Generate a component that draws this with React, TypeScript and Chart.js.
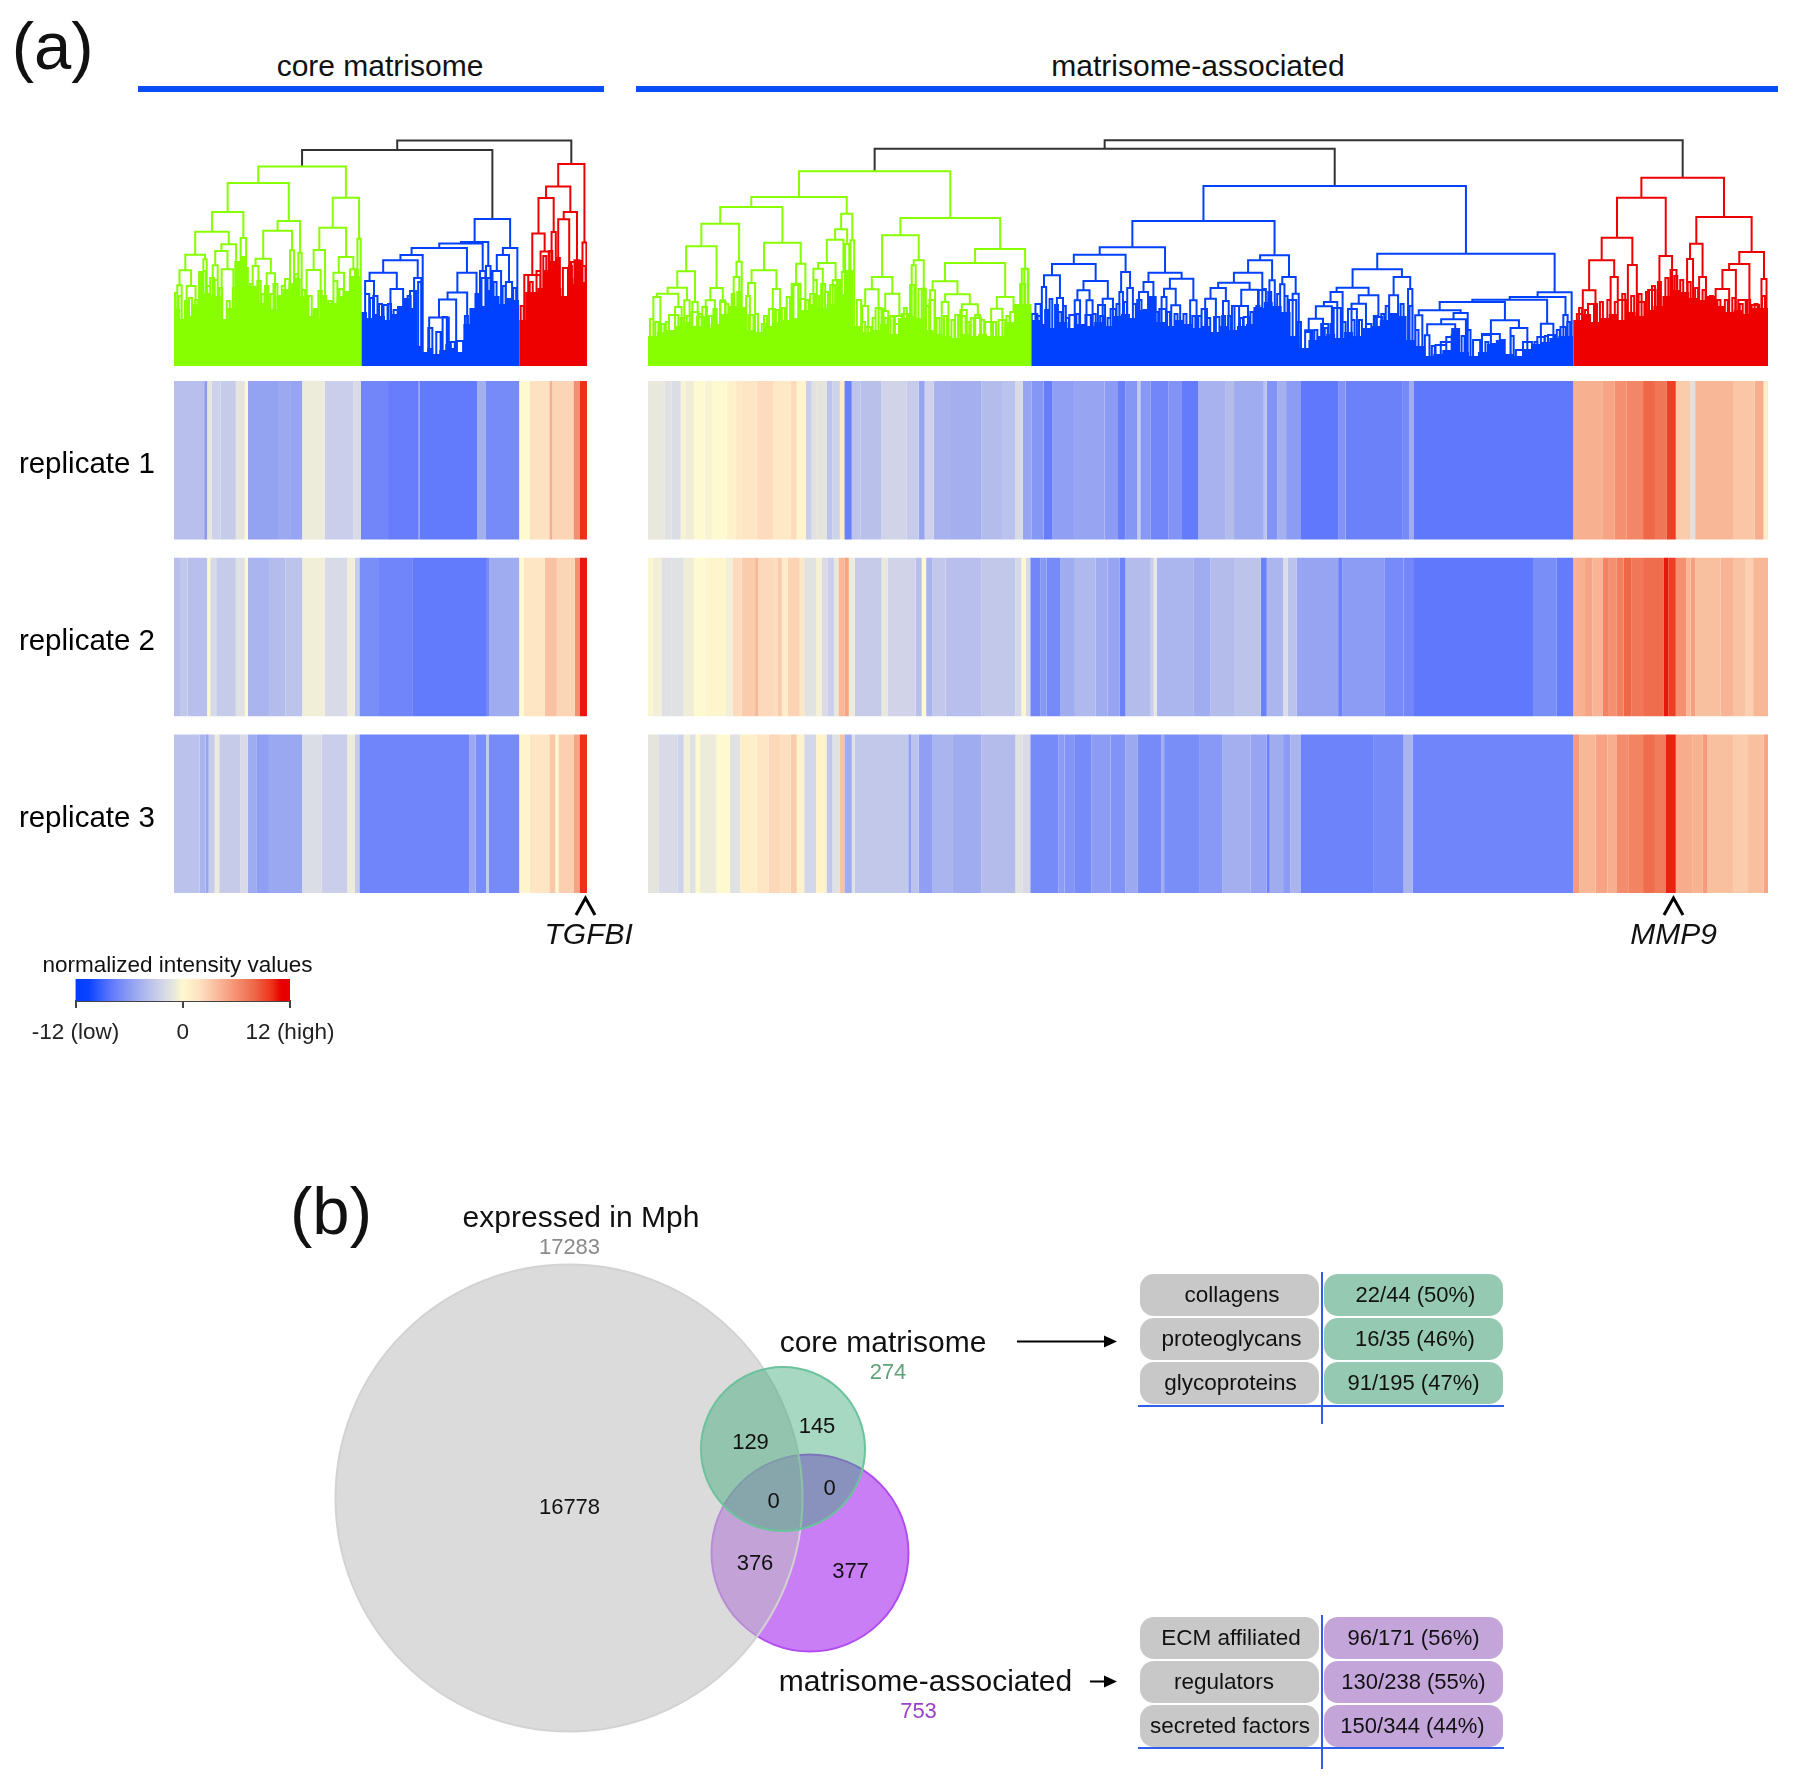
import React, { useEffect, useRef } from "react";
import { Chart, registerables } from "chart.js";

Chart.register(...registerables);

const FONT = '"Liberation Sans", Arial, sans-serif';
const replicateLabels = ["replicate 1", "replicate 2", "replicate 3"];

// Colour scale of the heat map: [normalized intensity, colour]
const heatStops: [number, string][] = [
  [-12, "#003cff"], [-10.5, "#0a44ff"], [-8, "#6078fc"], [-6, "#8c9cf4"], [-4, "#b4bcec"], [-2, "#d8dae8"],
  [-1, "#e8e8dc"], [0, "#fff9cf"], [2, "#fddfc0"], [4, "#f8b898"], [6, "#f49070"], [8, "#ee6848"],
  [10, "#ee3018"], [11, "#e60000"], [12, "#e60000"],
];

// Heat map strips: [last gene of the run, intensity]
const coreRep1: [number, number][] = [[20,-3.8],[22,-6],[25,-1.2],[31,-2.6],[41,-3],[47,-1.2],[49,0],[69,-5.6],[77,-5.2],[85,-5.5],[100,-0.8],[119,-2.8],[124,-2],[142,-7.2],[162,-7.7],[163,-6.5],[201,-7.9],[207,-4.8],[229,-7],[236,0],[249,1.8],[251,4.5],[265,2.5],[269,6],[274,10]];
const coreRep2: [number, number][] = [[4,-3.8],[9,-3.2],[22,-3.8],[24,0],[28,-2],[41,-3],[47,-1.5],[49,0],[63,-4.5],[74,-4],[85,-3.5],[100,-0.6],[115,-2],[120,-0.6],[123,-3],[136,-6.8],[158,-7.3],[207,-7.9],[209,-7],[229,-5],[232,0],[246,1.5],[254,3.5],[266,2.5],[269,6],[274,10.5]];
const coreRep3: [number, number][] = [[17,-3.6],[21,-4.5],[23,-5.5],[27,-3],[30,-0.8],[44,-3],[49,-2],[55,-5],[63,-5.8],[85,-5.3],[98,-1.8],[115,-2.8],[120,-0.8],[123,-3],[196,-7.3],[200,-5.2],[207,-6.8],[209,-3],[229,-7],[236,0.4],[249,1.5],[253,3.2],[255,0],[265,2.8],[269,5],[274,10]];

const assocRep1: [number, number][] = [[11,-1],[16,-1.5],[22,-1.8],[25,-0.3],[31,-0.7],[38,0],[43,-0.3],[53,0],[59,0.6],[63,1.2],[73,1.5],[84,2.2],[96,1.3],[100,2.2],[106,0.4],[110,-2.8],[113,-1.5],[120,-1.2],[124,-3.5],[129,-2.5],[132,1],[137,-7.5],[143,-3.5],[157,-3.7],[174,-2.4],[182,-3],[186,-5.5],[192,-2.6],[203,-4.6],[224,-4.8],[238,-4],[247,-3.6],[252,-2],[258,-5.5],[266,-6.3],[272,-7.7],[287,-5.8],[307,-5.5],[316,-6],[321,-7.7],[329,-6.3],[331,-3],[338,-6.2],[350,-7.2],[359,-6.5],[370,-7.8],[388,-4.6],[394,-4],[414,-5],[416,-3.5],[423,-6.5],[429,-4.8],[439,-6],[464,-8],[469,-6.5],[507,-7.5],[512,-7],[515,-5],[622,-8],[642,4.4],[650,5],[658,6],[669,6.5],[677,8],[685,7.3],[691,9.5],[701,3],[704,-1.5],[730,4],[744,3.3],[750,4.5],[753,1]];
const assocRep2: [number, number][] = [[3,-0.2],[9,-0.6],[16,-1.6],[24,-1.5],[31,-0.7],[38,0],[52,0.3],[57,-0.6],[63,2.2],[72,3],[74,4],[84,2.3],[87,2.1],[90,3],[94,1],[102,2.6],[105,1.3],[113,-1.4],[117,-0.5],[121,-2],[125,-2.8],[128,-1],[132,4],[135,5],[139,-0.8],[157,-3],[161,-1],[180,-2.4],[184,-3.8],[187,0],[191,-4.5],[200,-3.2],[224,-3.8],[247,-3.2],[251,-2.2],[254,-0.2],[257,-2],[264,-7.2],[268,-6.2],[277,-7],[287,-5],[301,-4.2],[309,-5],[317,-5.5],[321,-7.5],[338,-4],[340,-2.8],[342,-1],[367,-4.4],[378,-5],[394,-4],[412,-3.5],[416,-7.5],[427,-4.4],[430,-1.8],[436,-3.6],[464,-5.5],[467,-7.5],[495,-6],[508,-7],[515,-7.2],[595,-8],[611,-6.8],[622,-7.8],[630,4.4],[635,5],[642,4.2],[646,6.6],[651,6],[656,6.8],[661,8],[669,7.2],[683,7.8],[686,10.5],[691,9.5],[698,6],[701,4],[704,5.2],[721,3.6],[730,4.2],[738,3.5],[743,2.8],[753,4]];
const assocRep3: [number, number][] = [[7,-1.2],[20,-2],[24,-2.5],[28,-0.6],[32,-1.5],[35,0],[46,-0.8],[55,0],[62,-1.5],[73,0.8],[81,1.5],[89,2.4],[96,2],[100,3],[105,0.6],[113,-2.2],[120,0.5],[124,-3.2],[129,-1.5],[132,3.5],[137,-5],[139,-1.5],[175,-3.2],[177,-5.8],[182,-3.6],[191,-5.8],[205,-4.5],[224,-5],[247,-4],[252,-1.5],[257,-2],[276,-7],[280,-6],[287,-6.4],[298,-7],[311,-6],[321,-6.5],[329,-5.2],[345,-7],[347,-5],[371,-6.8],[386,-6.2],[405,-4.8],[416,-5.5],[418,-7.5],[427,-5],[432,-6],[439,-4.5],[488,-7.4],[508,-7],[514,-4.5],[622,-7.3],[626,5.5],[637,4],[645,5],[651,4.5],[659,6.2],[669,6.6],[677,7.8],[684,7],[691,10.3],[702,4.6],[709,4.3],[712,5.5],[730,3.6],[739,3],[750,3.6],[753,5]];

// Dendrograms: a node is [height, left, right]; a plain number is a leaf at that gene position
type Tree = number | [number, Tree, Tree];

const coreGreenTree: Tree = [199.6,
  [183,
    [154,
      [134.3,
        [111.3, [95.7, [80.7, 2.2, 5.1], [80, 8.4, [60.7, 12.4, 16.2]]], [106.7, 19.5, 21.7]],
        [121.7, [115, [100.7, 25.7, 29], [96.7, 31.6, 39.4]], 41.2]],
      [128, 44.2, 47.8]],
    [145, [135.3, [107.3, [100, 52.2, 56], [92.7, 61.5, 67]], [115.7, 77, 79.6]], [113.3, 82.5, 84.7]]],
  [168.3,
    [138.3, [116, [96, 88, 97.3], 100.2], [109, [93.3, 105.8, 112.8], [96.7, 116.8, 121.2]]],
    [127.3, 121.7, 123.9]]];
const coreBlueTree: Tree = [147,
  [124,
    [122.5,
      [118,
        [111, [105.7, [93.2, [85, 126.8, 132.7], [77, 143.6, 152]], [88, 159.3, 164.1]], 165],
        [93.2, [73.6, [66.4, [48.6, 169.3, 182.3], 187.2], 194.5], 200.7]],
      [95, 203, 206.6]],
    [100, 207, 210]],
  [118, [111, [95, 211.3, 217], [84, 220.2, 224.3]], 227.8]];
const coreRedTree: Tree = [202,
  [179.6,
    [168, [132.5, [91, 232.4, 243], [114.6, 243.2, 248.6]], [134, 250.5, 253.3]],
    [154, [146.8, 254.9, 262.2], [105.7, 265.7, 269]]],
  [123.6, 271, 273.6]];
const coreJoinHeights = [216, 225.4];

const assocGreenTree: Tree = [194.7,
  [169,
    [159,
      [142.3,
        [119.7,
          [94.7, [78.3, [72.3, [69, 3.6, 8.3], [59, 18.2, 22.6]], [65.7, 24.4, 28]], [64, 29.8, 33.4]],
          [78, [65.7, 38.8, 45], [65.7, 48.7, 51.8]]],
        [104.3, [89, 57.6, 61.4], 63]],
      [123.3, [95.7, [83, [70, 66, 68.5], 72], [77, 83.9, 88.8]], [102.3, [82.3, 96.6, 102.5], 105.8]]],
    [152.3,
      [136.7,
        [126.3, [103, [97.3, 111.2, 117.5], [85.7, 124.2, 128]], [94, 130.3, 132.5]],
        [122, 132.5, 135.3]],
      [125.7, 136.1, 138.6]]],
  [148,
    [130.7,
      [89, [76.7, [60, 144, 148], [58, 153, 157]], [72.3, [55, 157.5, 161.5], [50, 166, 172]]],
      [105.7, [100.7, 177.3, 180], [77.3, 184, 186.8]]],
    [117,
      [103,
        [84.7, [75.7, 189.7, 193], [71.7, [64, 197.5, 202], [61.7, [50, 208.5, 213.5], [48, 219.5, 224]]]],
        [69, [57.3, 230.7, 238.3], [54, 243.5, 248]]],
      [97.3, 251.3, 255.8]]]];
const assocBlueTree: Tree = [180,
  [145,
    [118.7,
      [111.3,
        [102,
          [90.7, [79, 264.8, 267.7], [68, 274.9, 279]],
          [85, [75.7, [65.7, 286.9, 290.5], [65.7, 294.8, 298.9]], [67.3, 305.7, 312.6]]],
        [94, [74, 316.9, 319.3], [78, 322.2, 326]]],
      [93.3,
        [84, [74, 330.1, 336.2], 339.8],
        [87.3, [77.3, [69, 345.3, 348.6], [60.7, 351.8, 357.8]], [65.7, 364.5, 368.8]]]],
    [110.7,
      [105.7,
        [93.3,
          [83.3, [78, [67.3, 374.6, 381.8], [65, 386.6, 390.4]], [76.3, [60, 394.3, 403.4], [58, 407.7, 412.5]]],
          [76, 410.6, 415.4]],
        [85.7, 417.8, 421.4]],
      [89, [81.7, 425, 427.9], [72.3, 433.4, 437.5]]]],
  [112.3,
    [96.7,
      [78.3,
        [74, [64, [59.7, [47.3, [35.7, 441.8, 446.6], 453.8], 459.8], 463.4], 467],
        [70.7, [62.3, 473, 482.7], [49, 488.6, 493.5]]],
      [89, [70.7, 498.3, 504.3], [77, 511, 513.9]]],
    [73.7,
      [69,
        [66.3,
          [64,
            [55.7, [50.7, 515.8, 520.6], [53, [46.7, [41.7, [30.7, 522.3, 525.4], [30.7, 540.3, 545.1]], 549.9], 551.1]],
            [45.7, [32, 560.7, 572.7], [38, 579.9, 591.2]]],
          [42.3, 600.3, 608.7]],
        [51, 615.4, 618.3]],
      621]]];
const assocRedTree: Tree = [188.3,
  [168.3,
    [128.3, [105.7, [75.7, 628.5, 637], [89, 647.2, 652]], [101, 658.8, 664.8]],
    [110, 680, 688.5]],
  [149,
    [122.3, [107, 698.6, 702.6], [89, 706.7, 711.3]],
    [114, [102, [96, [77, 717.8, 726.9], 731.4], 740.5], [87, 748.6, 752]]]];
const assocJoinHeights = [217.3, 225.7];

// Small low-level merges: [left gene, right gene, height]
const coreGreenFine = [[0.7,2.2,73],[7.3,9.5,65],[19.5,21.2,95],[24,26.5,88],[35,37,65],[35.4,37.6,57],[50.4,52.2,82],[55.3,57.5,85],[60.4,62.6,80],[66,68.6,82],[71.5,73.7,80],[73.7,76.6,87],[89.2,91.4,70],[93,95.8,57],[95.8,98,75],[102.4,104.6,65],[105.8,108.4,85],[109.7,112.4,77],[116.8,119,80],
  [3,5,70],[10,12,68],[14,16,66],[17,19,88],[22,24,80],[27,29,86],[30,32,78],[39,41,78],[42,44,100],[47,49,98],[58,60,72],[64,66,72],[69,71,70],[80,82,92],[85,87,76],[99,101,70],[113,115,72],[120,122,96]];
const coreBlueFine = [[126.8,129.5,72],[132.2,135,70],[139,141.7,61],[145.7,148.4,56],[151,153.8,52],[156.6,160.6,75],[168.7,171.4,38],[174,176.9,34],[178.2,181,49],[183.6,186.3,24],[187.7,191.8,25],[197.2,199.9,56],[204,206.7,88],
  [130,132,68],[136,138,62],[142,144,62],[149,151,58],[155,157,70],[162,164,84],[193,195,50],[200,202,72],[208,210,88],[212,214,84],[218,220,80],[225,227,78]];
const coreRedFine = [[232.4,235,91],[240.5,243.2,95],[258,261.4,98],[263.5,266.8,104],
  [230,232,60],[236,238,84],[245,247,110],[249,251,115],[254,256,108],[262,264,100],[268,270,105],[271,273,100]];
const assocGreenFine = [[1.3,3.6,47],[14.1,20.4,51],[29.4,33.9,54],[36.5,39.7,59],[33,37.9,49],[44,46.2,57],[48.4,52.2,64],[56.3,58,72],[67.5,70.9,51],[76.5,79.8,42],[81.4,85.4,57],[93.3,95.5,69],[97.8,101,81],[102.2,105.6,67],[109,112.3,72],[111.2,113.5,86],[116.4,119.1,82],[122.4,125.8,81],[140.4,143.3,66],[146.4,150,39],[155,158.3,57],[165,168.8,42],[170.6,175.1,52],[176.2,179.1,81],[181.8,185.4,77],[189.2,192.6,66],[206.5,211,51],[210,214.3,56],[220,223.3,51],[226.7,231.2,44],[235.7,240.1,46],[250.2,253.6,82],[253,255.4,97],
  [5,7,44],[9,11,42],[12,14,44],[22,24,48],[26,28,50],[34,36,52],[41,43,50],[52,54,62],[60,62,74],[64,66,58],[72,74,52],[78,80,50],[86,88,56],[90,92,58],[106,108,66],[113,115,70],[119,121,74],[127,129,86],[144,146,44],[151,153,48],[159,161,48],[163,165,50],[172,174,58],[187,189,60],[194,196,48],[199,201,50],[204,206,46],[214,216,44],[217,219,48],[224,226,46],[232,234,44],[241,243,50],[248,250,60]];
const assocBlueFine = [[258,261.7,52],[260.5,264,62],[270,271.8,67],[273.7,275.6,61],[279.2,280.9,60],[283.3,286.9,51],[294.1,297.7,51],[302.5,307.3,61],[311,314.5,57],[328.9,331.8,66],[333.3,335,56],[343.8,348.2,57],[372.2,375.8,57],[380.6,384.2,49],[392.6,397.4,60],[400.5,403.9,49],[413,415.4,77],[431,435.8,66],[441.8,445.4,34],[452.6,457.4,42],[461,465.8,58],[470.6,476.6,57],[482.7,486.3,42],[499.5,503,52],[529.5,536.7,21],[533,540.3,24],[536.7,543.9,29],[554.7,559.5,26],[560.7,566.7,31],[566.7,571.5,22],[583.5,593.1,16],[588.3,594.3,24],[597.9,602.7,29],[605.1,610,31],[613.5,617.1,39],
  [262,264,50],[267,269,56],[276,278,54],[281,283,48],[288,290,52],[299,301,52],[304,306,50],[309,311,48],[315,317,62],[320,322,64],[326,328,62],[337,339,58],[341,343,54],[349,351,54],[354,356,52],[360,362,52],[366,368,50],[370,372,50],[376,378,48],[386,388,50],[390,392,50],[398,400,48],[405,407,54],[409,411,60],[417,419,74],[423,425,72],[428,430,70],[437,439,44],[448,450,36],[455,457,38],[459,461,42],[467,469,44],[473,475,46],[478,480,46],[488,490,50],[493,495,52],[496,498,60],[506,508,62],[512,514,60],[516,518,36],[527,529,20],[547,549,30],[551,553,36],[563,565,24],[574,576,26],[580,582,30],[596,598,24],[603,605,30],[611,613,36],[618,620,44]];
const assocRedFine = [[624.5,628.5,52],[632,638,62],[652,658,66],[664.8,669.9,64],[672.4,677.4,76],[687.5,691.5,96],[713,717,57],[733,738,66],[742,747,61],
  [626,628,58],[630,632,56],[636,638,60],[640,642,64],[645,647,66],[650,652,64],[655,657,72],[661,663,70],[666,668,72],[671,673,74],[675,677,80],[679,681,84],[684,686,88],[690,692,90],[694,696,86],[699,701,84],[704,706,78],[709,711,76],[714,716,70],[719,721,66],[724,726,66],[729,731,68],[734,736,62],[739,741,66],[744,746,62],[749,751,70]];

// Upper edge of the solid part of each dendrogram cluster, one height per bin
const coreGreenMass = [53,57,47,50,60,95,73,70,70,47,57,105,110,80,80,63,60,57,70,77,83,88,70,50,57,47,63,63,70,75,90];
const coreBlueMass = [50,54,48,52,50,46,52,60,68,58,20,14,18,12,16,22,18,14,42,58,72,60,76,70,62,68,66];
const coreRedMass = [42,46,74,74,78,96,105,78,70,88,82,84];
const assocGreenMass = [36,30,34,36,40,44,40,38,42,52,60,58,36,34,40,44,46,48,56,62,58,62,72,96,40,34,36,42,32,48,50,48,36,32,30,28,32,30,32,30,30,44,62];
const assocBlueMass = [40,46,42,38,44,38,42,40,44,40,50,52,48,56,70,44,40,46,42,38,40,34,40,36,40,42,58,64,60,54,30,18,26,30,32,28,34,30,38,40,46,52,50,26,20,10,12,16,38,14,10,14,22,26,12,10,16,22,24,28,30];
const assocRedMass = [50,46,52,44,48,52,46,54,50,56,60,70,76,74,68,66,70,60,54,56,52,58];

// Venn diagram: purple, grey, green
const vennNames = ["matrisome-associated", "expressed in Mph", "core matrisome"];
const vennX = [490, 249, 463];
const vennY = [308, 253, 204];
const vennR = [98.5, 233.5, 82];
const vennFill = ["rgba(165,40,240,0.6)", "rgba(190,190,190,0.56)", "rgba(60,170,120,0.45)"];
const vennEdge = ["#b04cf0", "#d2d2d2", "#6cc29c"];

const coreTable = [["collagens", "22/44 (50%)"], ["proteoglycans", "16/35 (46%)"], ["glycoproteins", "91/195 (47%)"]];
const assocTable = [["ECM affiliated", "96/171 (56%)"], ["regulators", "130/238 (55%)"], ["secreted factors", "150/344 (44%)"]];

const GREEN = "#88ff00";
const BLUE = "#0040ff";
const RED = "#ee0000";
const BLACK = "#333333";

function hexToRgb(h: string) {
  return [parseInt(h.slice(1, 3), 16), parseInt(h.slice(3, 5), 16), parseInt(h.slice(5, 7), 16)];
}
function heatColor(v: number) {
  for (let i = 1; i < heatStops.length; i++) {
    if (v <= heatStops[i][0]) {
      const [v0, c0] = heatStops[i - 1];
      const [v1, c1] = heatStops[i];
      const t = (v - v0) / (v1 - v0);
      const a = hexToRgb(c0);
      const b = hexToRgb(c1);
      return `rgb(${a.map((x, k) => Math.round(x + (b[k] - x) * t)).join(",")})`;
    }
  }
  return heatStops[heatStops.length - 1][1];
}

const quiet = { legend: { display: false }, tooltip: { enabled: false }, title: { display: false } };

function makeHeat(canvas: HTMLCanvasElement, rows: [number, number][][], max: number, withLabels: boolean) {
  const datasets: any[] = [];
  rows.forEach((row, r) => {
    let start = 0;
    row.forEach(([end, value]) => {
      const data: any[] = [null, null, null];
      data[r] = [start, end];
      datasets.push({ data, backgroundColor: heatColor(value), borderWidth: 0, categoryPercentage: 1, barPercentage: 0.897 });
      start = end;
    });
  });
  return new Chart(canvas, {
    type: "bar",
    data: { labels: replicateLabels, datasets },
    options: {
      indexAxis: "y",
      animation: false,
      responsive: false,
      devicePixelRatio: 1,
      layout: { padding: 0, autoPadding: false },
      plugins: quiet,
      events: [],
      scales: {
        x: { type: "linear", min: 0, max, display: false },
        y: {
          stacked: true,
          display: withLabels,
          grid: { display: false, drawTicks: false },
          border: { display: false },
          ticks: { color: "#000", font: { family: FONT, size: 29.5 }, padding: 19, labelOffset: 5 },
          afterFit: (s: any) => {
            if (!withLabels) return;
            s.width = 174;
            s.paddingTop = 0;
            s.paddingBottom = 0;
          },
        },
      },
    },
  } as any);
}

function walk(node: Tree, out: any[]): { x: number; h: number } {
  if (typeof node === "number") return { x: node, h: 0 };
  const [h, l, r] = node;
  const a = walk(l, out);
  const b = walk(r, out);
  out.push({ x: a.x, y: a.h }, { x: a.x, y: h }, { x: b.x, y: h }, { x: b.x, y: b.h }, { x: NaN, y: NaN });
  return { x: (a.x + b.x) / 2, h };
}

function massPoints(values: number[], start: number, end: number, bin: number) {
  const pts = values.map((v, i) => ({ x: Math.min(start + i * bin, end), y: v }));
  pts.push({ x: end, y: values[values.length - 1] });
  return pts;
}

function fineSegments(list: number[][]) {
  const out: any[] = [];
  list.forEach(([a, b, h]) => out.push({ x: a, y: 0 }, { x: a, y: h }, { x: b, y: h }, { x: b, y: 0 }, { x: NaN, y: NaN }));
  return out;
}

function makeDendro(canvas: HTMLCanvasElement, max: number, clusters: any[], joins: number[]) {
  const datasets: any[] = [];
  const roots: { x: number; h: number }[] = [];
  clusters.forEach((c) => {
    const seg: any[] = [];
    roots.push(walk(c.tree, seg));
    datasets.push({
      data: massPoints(c.mass, c.start, c.end, c.bin), showLine: true, stepped: "after", fill: "origin",
      backgroundColor: c.color, borderWidth: 0, pointRadius: 0,
    });
    datasets.push({ data: seg.concat(fineSegments(c.fine)), showLine: true, borderColor: c.color, borderWidth: 2, pointRadius: 0, spanGaps: false, borderJoinStyle: "miter" });
  });
  const black: any[] = [];
  const lx = (roots[0].x + roots[1].x) / 2;
  black.push({ x: roots[0].x, y: roots[0].h }, { x: roots[0].x, y: joins[0] }, { x: roots[1].x, y: joins[0] }, { x: roots[1].x, y: roots[1].h }, { x: NaN, y: NaN });
  black.push({ x: lx, y: joins[0] }, { x: lx, y: joins[1] }, { x: roots[2].x, y: joins[1] }, { x: roots[2].x, y: roots[2].h });
  datasets.push({ data: black, showLine: true, borderColor: BLACK, borderWidth: 2, pointRadius: 0, spanGaps: false, borderJoinStyle: "miter" });
  return new Chart(canvas, {
    type: "scatter",
    data: { datasets },
    options: {
      animation: false, responsive: false, devicePixelRatio: 1, events: [],
      layout: { padding: 0, autoPadding: false },
      plugins: quiet,
      scales: {
        x: { type: "linear", min: 0, max, display: false },
        y: { type: "linear", min: 0, max: 232, display: false },
      },
    },
  } as any);
}

function makeLegend(canvas: HTMLCanvasElement) {
  return new Chart(canvas, {
    type: "bar",
    data: {
      labels: ["normalized intensity values"],
      datasets: [{
        data: [[-12, 12]],
        borderWidth: 0, categoryPercentage: 1, barPercentage: 1,
        backgroundColor: (ctx: any) => {
          const area = ctx.chart.chartArea;
          if (!area) return "#888";
          const g = ctx.chart.ctx.createLinearGradient(area.left, 0, area.right, 0);
          heatStops.forEach(([v, c]) => g.addColorStop((v + 12) / 24, c));
          return g;
        },
      }],
    },
    options: {
      indexAxis: "y", animation: false, responsive: false, devicePixelRatio: 1, events: [],
      layout: { padding: { left: 75.5, right: 70, top: 4, bottom: 0 } },
      plugins: quiet,
      scales: {
        y: { display: false },
        x: {
          type: "linear", min: -12, max: 12,
          afterBuildTicks: (s: any) => { s.ticks = [{ value: -12 }, { value: 0 }, { value: 12 }]; },
          afterFit: (s: any) => { s.height = 43; },
          grid: { drawOnChartArea: false, drawTicks: true, tickLength: 7, color: "#444", lineWidth: 2 },
          border: { display: true, color: "#444", width: 2 },
          ticks: {
            color: "#222", font: { family: FONT, size: 22.5 }, padding: 11, maxRotation: 0, autoSkip: false,
            callback: (v: any) => (v === -12 ? "-12 (low)" : v === 12 ? "12 (high)" : "0"),
          },
        },
      },
    },
  } as any);
}

function makeVenn(canvas: HTMLCanvasElement) {
  return new Chart(canvas, {
    type: "bubble",
    data: {
      labels: vennNames,
      datasets: [{
        data: vennX.map((x, i) => ({ x, y: vennY[i], r: vennR[i] })),
        backgroundColor: vennFill, borderColor: vennEdge, borderWidth: 2, clip: false,
      }],
    },
    options: {
      animation: false, responsive: false, devicePixelRatio: 1, events: [],
      layout: { padding: 0, autoPadding: false },
      plugins: quiet,
      scales: {
        x: { type: "linear", min: 0, max: 640, display: false },
        y: { type: "linear", min: 0, max: 540, reverse: true, display: false },
      },
    },
  } as any);
}

function T(p: { x: number; y: number; s: number; c?: string; i?: boolean; children: any }) {
  return (
    <span style={{
      position: "absolute", left: p.x, top: p.y, transform: "translate(-50%,-50%)", fontSize: p.s,
      color: p.c || "#111", fontStyle: p.i ? "italic" : "normal", whiteSpace: "nowrap", lineHeight: 1, fontFamily: FONT,
    }}>{p.children}</span>
  );
}

function Box(p: { x: number; y: number; w: number; h: number; c: string; r?: number }) {
  return <div style={{ position: "absolute", left: p.x, top: p.y, width: p.w, height: p.h, background: p.c, borderRadius: p.r || 0 }} />;
}

function Table(p: { rows: string[][]; tops: number[]; fill: string; centers: number[][]; h: number; axisTop: number; axisBottom: number; rule: number }) {
  return (
    <>
      {p.rows.map((row, i) => (
        <React.Fragment key={i}>
          <Box x={1140} y={p.tops[i]} w={179} h={p.h} c="#c8c8c8" r={14} />
          <Box x={1324} y={p.tops[i]} w={179} h={p.h} c={p.fill} r={14} />
          <T x={p.centers[i][0]} y={p.tops[i] + p.h / 2} s={22.5}>{row[0]}</T>
          <T x={p.centers[i][1]} y={p.tops[i] + p.h / 2} s={22}>{row[1]}</T>
        </React.Fragment>
      ))}
      <Box x={1320.5} y={p.axisTop} w={2} h={p.axisBottom - p.axisTop} c="#2f5fe8" />
      <Box x={1138} y={p.rule} w={366} h={2} c="#2f5fe8" />
    </>
  );
}

function Arrow(p: { x1: number; x2: number; y: number }) {
  return (
    <svg style={{ position: "absolute", left: 0, top: 0, pointerEvents: "none" }} width={1796} height={1788}>
      <line x1={p.x1} y1={p.y} x2={p.x2 - 8} y2={p.y} stroke="#000" strokeWidth={2} />
      <polygon points={`${p.x2},${p.y} ${p.x2 - 13},${p.y - 6} ${p.x2 - 13},${p.y + 6}`} fill="#000" />
    </svg>
  );
}

function Caret(p: { x: number; w: number }) {
  return (
    <svg style={{ position: "absolute", left: 0, top: 0, pointerEvents: "none" }} width={1796} height={1788}>
      <polyline points={`${p.x - p.w},915 ${p.x},898 ${p.x + p.w},915`} fill="none" stroke="#000" strokeWidth={3} />
    </svg>
  );
}

export default function App() {
  const coreDendro = useRef<HTMLCanvasElement>(null);
  const assocDendro = useRef<HTMLCanvasElement>(null);
  const coreHeat = useRef<HTMLCanvasElement>(null);
  const assocHeat = useRef<HTMLCanvasElement>(null);
  const legend = useRef<HTMLCanvasElement>(null);
  const venn = useRef<HTMLCanvasElement>(null);

  useEffect(() => {
    const charts = [
      makeDendro(coreDendro.current!, 274, [
        { tree: coreGreenTree, mass: coreGreenMass, fine: coreGreenFine, start: 0, end: 124, bin: 4, color: GREEN },
        { tree: coreBlueTree, mass: coreBlueMass, fine: coreBlueFine, start: 124, end: 229, bin: 4, color: BLUE },
        { tree: coreRedTree, mass: coreRedMass, fine: coreRedFine, start: 229, end: 274, bin: 4, color: RED },
      ], coreJoinHeights),
      makeDendro(assocDendro.current!, 753, [
        { tree: assocGreenTree, mass: assocGreenMass, fine: assocGreenFine, start: 0, end: 258, bin: 6, color: GREEN },
        { tree: assocBlueTree, mass: assocBlueMass, fine: assocBlueFine, start: 258, end: 622, bin: 6, color: BLUE },
        { tree: assocRedTree, mass: assocRedMass, fine: assocRedFine, start: 622, end: 753, bin: 6, color: RED },
      ], assocJoinHeights),
      makeHeat(coreHeat.current!, [coreRep1, coreRep2, coreRep3], 274, true),
      makeHeat(assocHeat.current!, [assocRep1, assocRep2, assocRep3], 753, false),
      makeLegend(legend.current!),
      makeVenn(venn.current!),
    ];
    return () => charts.forEach((c) => c.destroy());
  }, []);

  const cv = (left: number, top: number): React.CSSProperties => ({ position: "absolute", left, top });

  return (
    <div style={{ position: "absolute", left: 0, top: 0, width: 1796, height: 1788, background: "#fff", overflow: "hidden", fontFamily: FONT, filter: "blur(0.5px)" }}>
      <T x={52.7} y={45} s={67}>(a)</T>
      <T x={380} y={66} s={30}>core matrisome</T>
      <T x={1198} y={66} s={30}>matrisome-associated</T>
      <Box x={137.5} y={85.5} w={466} h={6} c="#0a4cf5" />
      <Box x={635.7} y={85.5} w={1142} h={6} c="#0a4cf5" />

      <canvas ref={coreDendro} width={413} height={232} style={cv(174, 134)} />
      <canvas ref={assocDendro} width={1120} height={232} style={cv(648, 134)} />
      <canvas ref={coreHeat} width={587} height={530} style={cv(0, 372)} />
      <canvas ref={assocHeat} width={1120} height={530} style={cv(648, 372)} />

      <Caret x={585.5} w={9.5} />
      <Caret x={1673.5} w={9.5} />
      <T x={588.7} y={933.5} s={30} i>TGFBI</T>
      <T x={1673.5} y={933.5} s={30} i>MMP9</T>

      <T x={177.5} y={964.5} s={22.5}>normalized intensity values</T>
      <canvas ref={legend} width={360} height={69} style={cv(0, 975)} />

      <T x={331} y={1210} s={67}>(b)</T>
      <T x={581} y={1216.5} s={30}>expressed in Mph</T>
      <T x={569.5} y={1247} s={22} c="#8a8a8a">17283</T>
      <canvas ref={venn} width={640} height={540} style={cv(320, 1245)} />
      <T x={569.5} y={1507} s={22}>16778</T>
      <T x={750.5} y={1442} s={22}>129</T>
      <T x={817} y={1426} s={22}>145</T>
      <T x={773.5} y={1501} s={22}>0</T>
      <T x={829.5} y={1488} s={22}>0</T>
      <T x={755} y={1563} s={22}>376</T>
      <T x={850.5} y={1571} s={22}>377</T>
      <T x={883} y={1342} s={30}>core matrisome</T>
      <T x={888} y={1372} s={22} c="#5fa377">274</T>
      <T x={925.5} y={1681} s={30}>matrisome-associated</T>
      <T x={918.5} y={1711} s={22} c="#9a40c8">753</T>
      <Arrow x1={1017} x2={1117} y={1341.5} />
      <Arrow x1={1090} x2={1117} y={1681.5} />

      <Table rows={coreTable} tops={[1274, 1318, 1362]} h={42} fill="#96c9b2" axisTop={1272} axisBottom={1424} rule={1405}
        centers={[[1232, 1415.5], [1231.5, 1415], [1230.5, 1413.5]]} />
      <Table rows={assocTable} tops={[1616.5, 1660.5, 1704.5]} h={42} fill="#c3a5da" axisTop={1615} axisBottom={1769} rule={1747}
        centers={[[1231, 1413.5], [1224, 1413.5], [1230, 1412.5]]} />
    </div>
  );
}
